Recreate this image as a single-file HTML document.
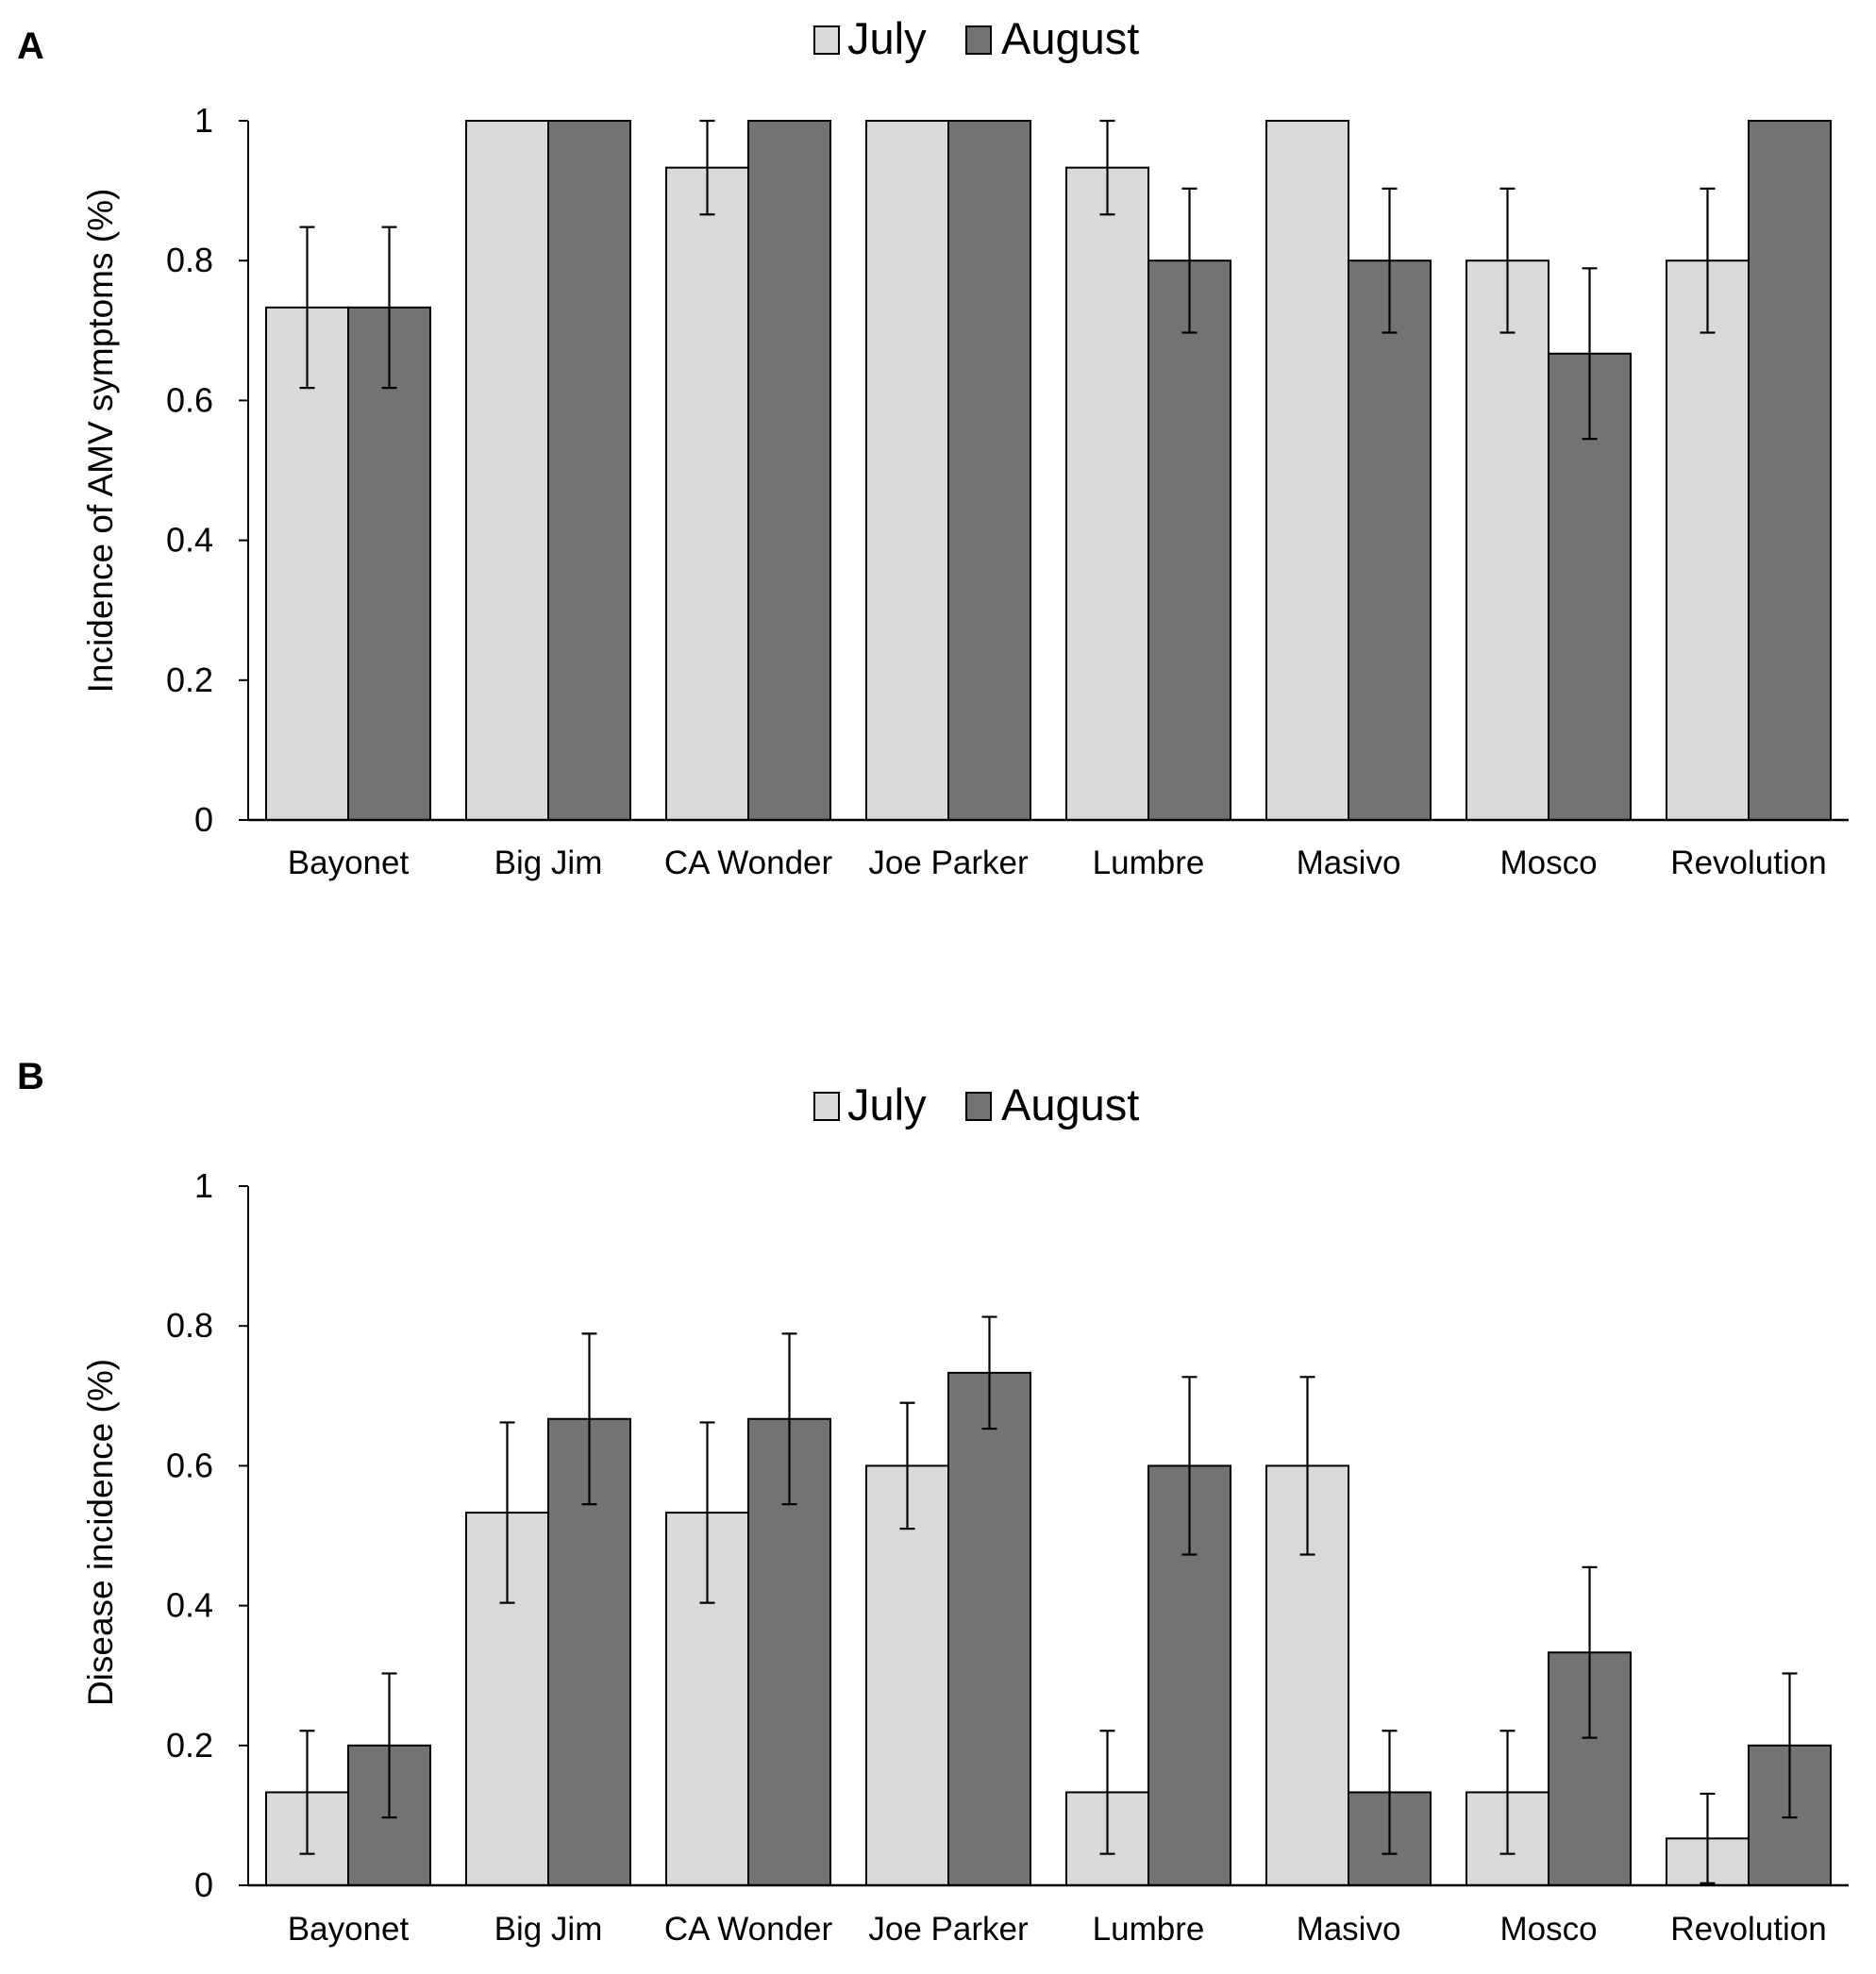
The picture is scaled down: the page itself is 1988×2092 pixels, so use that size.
<!DOCTYPE html>
<html><head><meta charset="utf-8"><style>
html,body{margin:0;padding:0;background:#fff;}
svg{display:block;font-family:"Liberation Sans",Arial,sans-serif;}
</style></head><body>
<svg id="chart" width="1988" height="2092" viewBox="0 0 1988 2092" xmlns="http://www.w3.org/2000/svg"></svg>
<script>
const categories = ["Bayonet","Big Jim","CA Wonder","Joe Parker","Lumbre","Masivo","Mosco","Revolution"];
const yTicks = [0,0.2,0.4,0.6,0.8,1];
const yTickLabels = ["0","0.2","0.4","0.6","0.8","1"];
const seriesNames = ["July","August"];
const aJuly = [0.733,1,0.933,1,0.933,1,0.8,0.8];
const aJulyErr = [0.115,0,0.067,0,0.067,0,0.103,0.103];
const aAug = [0.733,1,1,1,0.8,0.8,0.667,1];
const aAugErr = [0.115,0,0,0,0.103,0.103,0.122,0];
const bJuly = [0.133,0.533,0.533,0.6,0.133,0.6,0.133,0.067];
const bJulyErr = [0.088,0.129,0.129,0.09,0.088,0.127,0.088,0.064];
const bAug = [0.2,0.667,0.667,0.733,0.6,0.133,0.333,0.2];
const bAugErr = [0.103,0.122,0.122,0.08,0.127,0.088,0.122,0.103];

const NS = "http://www.w3.org/2000/svg";
const svg = document.getElementById('chart');
function mk(tag, attrs, parent, text){
  const e = document.createElementNS(NS, tag);
  for (const k in attrs) e.setAttribute(k, attrs[k]);
  if (text !== undefined) e.textContent = text;
  (parent||svg).appendChild(e);
  return e;
}
const colors = ["#d9d9d9","#737373"];

function panel(opt){
  const g = mk('g', {});
  
  
  const x0 = 263, x1 = 1959, yTop = opt.yTop, yBot = opt.yBot;
  const yScale = v => yBot - v*(yBot-yTop);
  const groupW = (x1-x0)/categories.length;
  const barW = 87;
  const xCenter = i => x0 + groupW*(i+0.5);

  const letter = mk('text', {x:18, y:opt.letterY, 'font-size':40, 'font-weight':'bold', fill:'#000'}, g, opt.letter);
  
  

  const lg = mk('g', {}, g);
  
  
  const lx = [863, 1024];
  const lt = [898, 1061];
  seriesNames.forEach((s, k) => {
    const r = mk('rect', {x:lx[k], y:opt.legendY-29, width:26, height:29, fill:colors[k], stroke:'#000','stroke-width':2}, lg);
    
    
    const t = mk('text', {x:lt[k], y:opt.legendY, 'font-size':47, fill:'#000'}, lg, s);
    
    
  });

  const series = [[opt.july, opt.julyErr],[opt.aug, opt.augErr]];
  series.forEach((ser, k) => {
    ser[0].forEach((v, i) => {
      const xl = xCenter(i) + (k===0 ? -barW : 0);
      const r = mk('rect', {x:xl, y:yScale(v), width:barW, height:yScale(0)-yScale(v), fill:colors[k], stroke:'#000','stroke-width':2}, g);
      
      
    });
  });
  series.forEach((ser, k) => {
    ser[0].forEach((v, i) => {
      const e = ser[1][i];
      if (!e) return;
      const xm = xCenter(i) + (k===0 ? -barW/2 : barW/2);
      const eg = mk('g', {stroke:'#000','stroke-width':2.2}, g);
      
      
      const yh = yScale(Math.min(1, v+e)), yl = yScale(Math.max(0, v-e));
      mk('line', {x1:xm, x2:xm, y1:yh, y2:yl}, eg);
      mk('line', {x1:xm-8, x2:xm+8, y1:yh, y2:yh}, eg);
      mk('line', {x1:xm-8, x2:xm+8, y1:yl, y2:yl}, eg);
    });
  });

  const ax = mk('g', {stroke:'#000','stroke-width':2}, g);
  
  
  mk('line', {x1:x0, x2:x0, y1:yTop, y2:yBot}, ax);
  const xa = mk('line', {x1:x0, x2:x1, y1:yBot, y2:yBot, stroke:'#000','stroke-width':2.5}, g);
  
  
  yTicks.forEach((v, i) => {
    mk('line', {x1:x0-10, x2:x0, y1:yScale(v), y2:yScale(v)}, ax);
    const t = mk('text', {x:226, y:yScale(v)+12, 'font-size':36, 'text-anchor':'end', fill:'#000', stroke:'none'}, g, yTickLabels[i]);
    
    
  });
  categories.forEach((c, i) => {
    const t = mk('text', {x:xCenter(i), y:opt.catY, 'font-size':35, 'text-anchor':'middle', fill:'#000'}, g, c);
    
    
  });
  const yt = mk('text', {x:0, y:0, 'font-size':37, 'text-anchor':'middle', fill:'#000', transform:'translate(119,' + opt.titleY + ') rotate(-90)'}, g, opt.title);
  
  
}

panel({name:'panel-a', letter:'A', letterY:62, legendY:57, yTop:128, yBot:869, catY:926, titleY:467,
  title:'Incidence of AMV symptoms (%)', july:aJuly, julyErr:aJulyErr, aug:aAug, augErr:aAugErr});
panel({name:'panel-b', letter:'B', letterY:1154, legendY:1187, yTop:1257, yBot:1998, catY:2056, titleY:1624,
  title:'Disease incidence  (%)', july:bJuly, julyErr:bJulyErr, aug:bAug, augErr:bAugErr});
</script>
</body></html>
